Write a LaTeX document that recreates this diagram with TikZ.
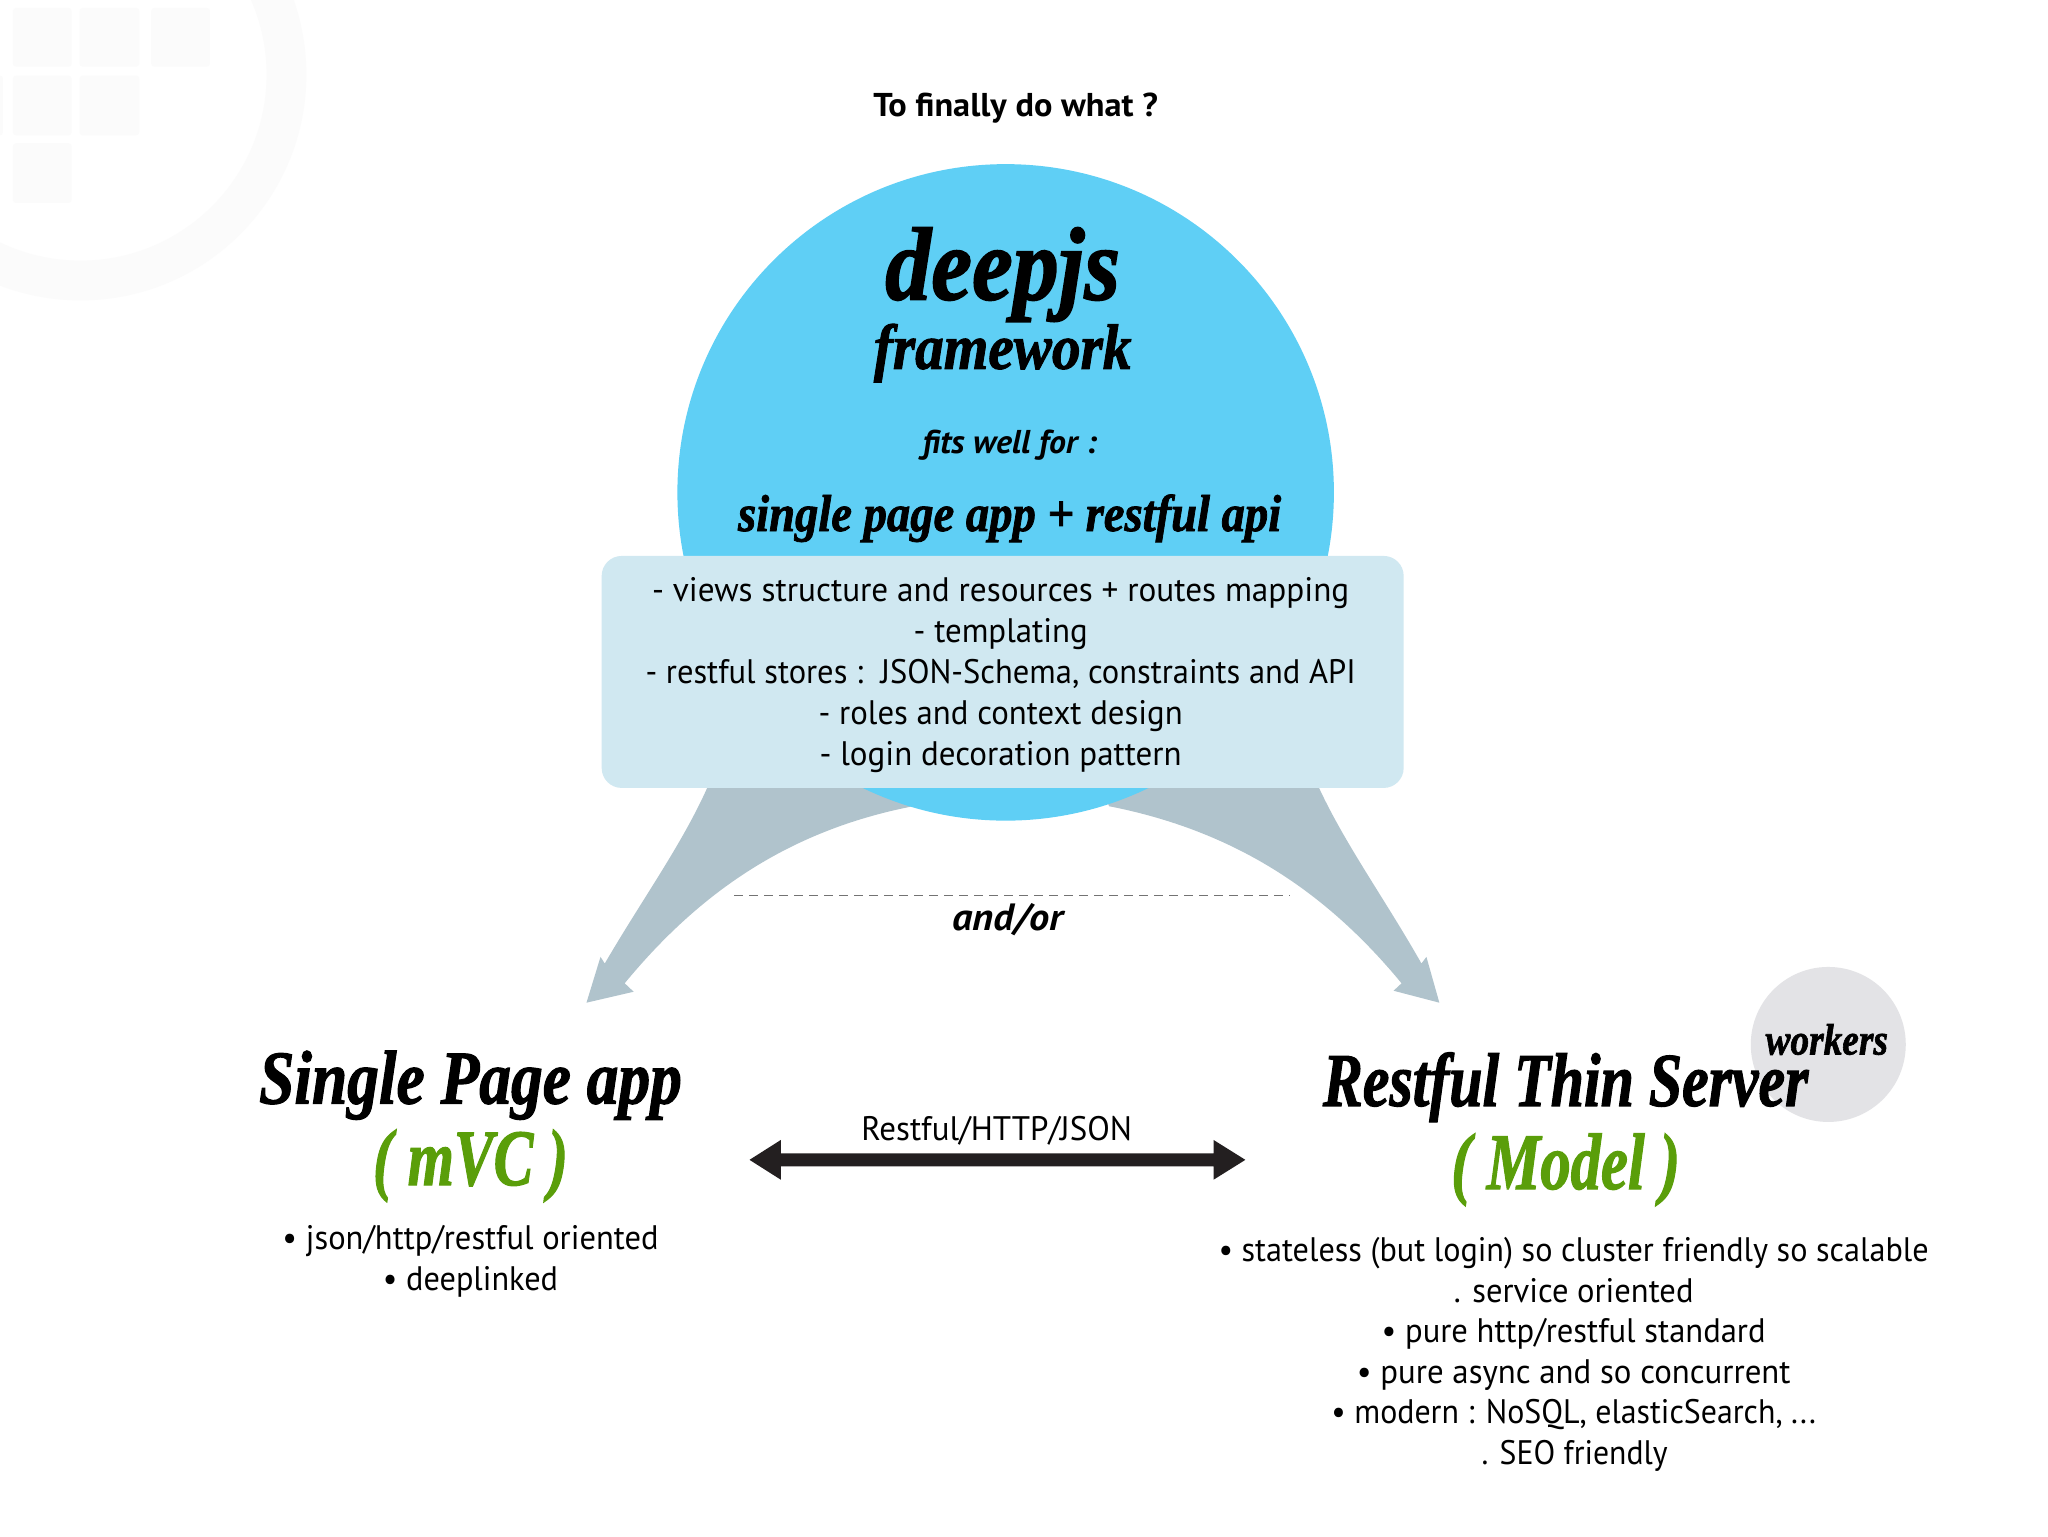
\documentclass[tikz,border=0pt]{standalone}
\usepackage{fontspec}
\usepackage{graphicx}
\setmainfont{PT Sans}
\newfontfamily\lob[BoldItalicFeatures={FakeBold=1.6}]{Liberation Serif}
\newcommand\fitx[2]{\resizebox{\dimexpr #1pt*9947/10000\relax}{\height}{#2}}
\newcommand\sz[1]{\fontsize{#1}{#1}\selectfont}
\definecolor{skyblue}{HTML}{5FCFF5}
\definecolor{boxblue}{HTML}{D0E8F1}
\definecolor{arrowgrey}{HTML}{B0C3CC}
\definecolor{mvcgreen}{HTML}{5A9E0A}
\definecolor{ink}{HTML}{231F20}
\definecolor{wm}{HTML}{FBFBFB}
\definecolor{workgrey}{HTML}{E3E3E6}
\tikzset{
  txt/.style={inner sep=0pt,outer sep=0pt,anchor=center,text=black},
  body/.style={txt,font=\sz{34},text height=28pt,text depth=4pt},
  scr/.style={txt,font=\lob\bfseries\itshape},
  wmark/.style={fill=wm,draw=none,rounded corners=3pt},
}
\begin{document}
\begin{tikzpicture}[x=0.9947pt,y=-0.9947pt]
\useasboundingbox (0,0) rectangle (2058.9,1544.2);
\fill[white] (0,0) rectangle (2058.9,1544.2);
% watermark
\begin{scope}
\clip (0,0) rectangle (2058.9,1544.2);
\fill[wm,even odd rule] (81,75) circle[radius=227] (81,75) circle[radius=187];
\fill[wmark] (13,8) rectangle (72,67);
\fill[wmark] (80,8) rectangle (140,67);
\fill[wmark] (152,8) rectangle (211,67);
\fill[wmark] (13,76) rectangle (72,136);
\fill[wmark] (80,76) rectangle (140,136);
\fill[wmark] (-50,76) rectangle (3,136);
\fill[wmark] (13,144) rectangle (72,204);
\end{scope}
% curved arrows
\fill[arrowgrey] (711,785) -- (711,792) .. controls (685,850) and (645,905) .. (608,968.6)
  -- (603.7,962) -- (589.6,1008) -- (637,997) -- (628,988.5)
  .. controls (705,895) and (795,835) .. (915.4,811) -- (925,785) -- cycle;
\fill[arrowgrey] (1326,785) -- (1326,792) .. controls (1353,850) and (1393,905) .. (1429,968.6)
  -- (1434,962) -- (1447,1008) -- (1401,996) -- (1409,988.5)
  .. controls (1332,895) and (1240,835) .. (1115,810.5) -- (1105,785) -- cycle;
% main circle and box
\node[circle,fill=skyblue,minimum size=656.5pt,inner sep=0pt] (main) at (1011,495) {};
\node[fill=boxblue,rounded corners=20pt,minimum width=802pt,minimum height=232pt,inner sep=0pt] (list) at (1008,675.5) {};
% title
\node[txt,font=\sz{33}\bfseries] (title) at (1021,109) {\fitx{286}{To finally do what ?}};
\node[scr,font=\lob\bfseries\itshape\sz{104}] (deepjs) at (1008,276) {\fitx{236}{deepjs}};
\node[scr,font=\lob\bfseries\itshape\sz{64}] (framework) at (1008,355) {\fitx{259}{framework}};
\node[txt,font=\sz{33}\bfseries\itshape] (fits) at (1015,448) {\fitx{175}{fits well for :}};
\node[scr,font=\lob\bfseries\itshape\sz{52}] (spra) at (1015,521) {\fitx{546}{single page app + restful api}};
% list lines
\node[body] (l1) at (1006,593) {\fitx{701}{- views structure and resources + routes mapping}};
\node[body] (l2) at (1006,634) {\fitx{175}{- templating}};
\node[body] (l3) at (1006,675) {\fitx{714}{- restful stores :\ \ JSON-Schema, constraints and API}};
\node[body] (l4) at (1006,716) {\fitx{366}{- roles and context design}};
\node[body] (l5) at (1006,757) {\fitx{364}{- login decoration pattern}};
% dashed line
\coordinate (dl) at (738,900);
\coordinate (dr) at (1297,900);
\draw[draw=black!55,line width=1.2pt,dash pattern=on 9pt off 6pt] (dl) -- (dr);
\node[txt,font=\sz{38}\bfseries\itshape] (andor) at (1013.5,925) {\fitx{112}{and/or}};
% left
\node[scr,font=\lob\bfseries\itshape\sz{76}] (spa) at (473,1091) {\fitx{425}{Single Page app}};
\node[scr,text=mvcgreen,font=\lob\bfseries\itshape\sz{80}] (mvc) at (473,1172) {\fitx{196}{( mVC )}};
\node[body] (a1) at (473,1244.5) {\fitx{378}{• json/http/restful oriented}};
\node[body] (a2) at (473,1285) {\fitx{176}{• deeplinked}};
% double arrow
\node[body] (rest) at (1002,1134) {\fitx{272}{Restful/HTTP/JSON}};
\coordinate (tipl) at (753.5,1166);
\coordinate (tipr) at (1252,1166);
\fill[ink] (tipl) -- (785,1146) -- (785,1159.5) -- (1220,1159.5) -- (1220,1146) -- (tipr)
  -- (1220,1186) -- (1220,1172.5) -- (785,1172.5) -- (785,1186) -- cycle;
% right
\node[circle,fill=workgrey,minimum size=155pt,inner sep=0pt] (wc) at (1838,1050) {};
\node[scr,font=\lob\bfseries\itshape\sz{44}] (workers) at (1836.5,1045) {\fitx{123}{workers}};
\node[scr,font=\lob\bfseries\itshape\sz{76}] (rts) at (1574,1093) {\fitx{488}{Restful Thin Server}};
\node[scr,text=mvcgreen,font=\lob\bfseries\itshape\sz{80}] (model) at (1574,1176) {\fitx{230}{( Model )}};
\node[body] (r1) at (1582,1256) {\fitx{714}{• stateless (but login) so cluster friendly so scalable}};
\node[body] (r2) at (1582,1297) {\fitx{241}{. service oriented}};
\node[body] (r3) at (1582,1338) {\fitx{386}{• pure http/restful standard}};
\node[body] (r4) at (1582,1378.5) {\fitx{436}{• pure async and so concurrent}};
\node[body] (r5) at (1582,1419) {\fitx{487}{• modern : NoSQL, elasticSearch, ...}};
\node[body] (r6) at (1583,1460) {\fitx{187}{. SEO friendly}};
\end{tikzpicture}
\end{document}
